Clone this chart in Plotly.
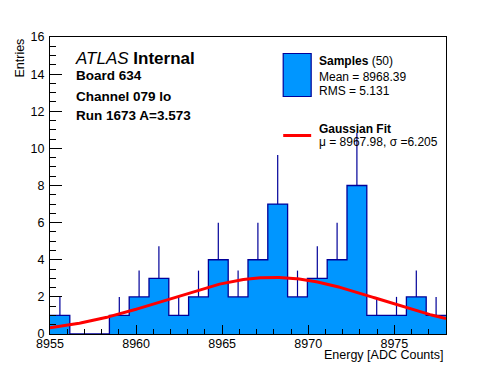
import numpy as np
import plotly.graph_objects as go

# ---- data ----
bin_lo = 8955.0
bin_hi = 8978.0
n_bins = 20
counts = [1, 0, 0, 1, 2, 3, 1, 2, 4, 2, 4, 7, 2, 3, 4, 8, 1, 1, 2, 1]
fit_const = 3.05
fit_mu = 8967.98
fit_sigma = 6.205
x_tick_vals = [8955, 8960, 8965, 8970, 8975]
y_tick_vals = [0, 2, 4, 6, 8, 10, 12, 14, 16]

header_lines = ["Board 634", "Channel 079 lo", "Run 1673 A=3.573"]
legend_samples = ["Mean = 8968.39", "RMS = 5.131"]

# ---- derived ----
edges = np.linspace(bin_lo, bin_hi, n_bins + 1)
centers = 0.5 * (edges[:-1] + edges[1:])
counts_arr = np.array(counts, dtype=float)

step_x = list(edges)
step_y = list(counts_arr) + [counts_arr[-1]]

err_x, err_y = [], []
for c, n in zip(centers, counts_arr):
    if n > 0:
        err_x += [c, c, None]
        err_y += [n, n + np.sqrt(n), None]

fx = np.linspace(bin_lo, bin_hi, 300)
fy = fit_const * np.exp(-0.5 * ((fx - fit_mu) / fit_sigma) ** 2)

# ---- layout geometry (screen pixels; page body has an 8px margin) ----
OFF = 8
W, H = 496 - OFF, 372 - OFF
L, R, T, B = 50, 446.5, 37, 334
FONT = "Liberation Sans"
FILL = "rgb(0,150,255)"
EDGE = "#000099"


def px(x):
    return (x - L) / (R - L)


def py(y):
    return (B - y) / (B - T)


fig = go.Figure()
fig.add_trace(go.Scatter(x=step_x, y=step_y, mode="lines", line_shape="hv",
                         fill="tozeroy", fillcolor=FILL,
                         line=dict(color=EDGE, width=1.3), hoverinfo="skip"))
fig.add_trace(go.Scatter(x=err_x, y=err_y, mode="lines",
                         line=dict(color=EDGE, width=1.2), hoverinfo="skip"))
fig.add_trace(go.Scatter(x=fx, y=fy, mode="lines",
                         line=dict(color="#ff0000", width=3), hoverinfo="skip"))

fig.update_layout(
    width=W, height=H, showlegend=False,
    margin=dict(l=L - OFF, r=W - (R - OFF), t=T - OFF, b=H - (B - OFF), pad=0),
    paper_bgcolor="white", plot_bgcolor="white",
    font=dict(family=FONT, size=12.5, color="black"),
)
fig.update_xaxes(range=[bin_lo, bin_hi], tickvals=x_tick_vals,
                 ticks="inside", ticklen=9, tickwidth=1, tickcolor="black",
                 minor=dict(dtick=1, tick0=bin_lo, ticks="inside", ticklen=5,
                            tickcolor="black", showgrid=False),
                 showline=True, linecolor="black", linewidth=1, mirror=True,
                 showgrid=False, zeroline=False, tickfont=dict(size=12.5),
                 ticklabelstandoff=-2)
fig.update_yaxes(range=[0, 16], tickvals=y_tick_vals,
                 ticks="inside", ticklen=12, tickwidth=1, tickcolor="black",
                 minor=dict(dtick=0.5, tick0=0, ticks="inside", ticklen=6,
                            tickcolor="black", showgrid=False),
                 showline=True, linecolor="black", linewidth=1, mirror=True,
                 showgrid=False, zeroline=False, tickfont=dict(size=12.5),
                 ticklabelstandoff=2)

ann = []
ann.append(dict(text="Entries", textangle=-90, x=px(19), y=py(37),
                xanchor="center", yanchor="top", font=dict(size=12.5)))
ann.append(dict(text="Energy [ADC Counts]", x=px(446), y=py(355),
                xanchor="right", yanchor="middle", font=dict(size=12.5)))
ann.append(dict(text="<i>ATLAS</i> <b>Internal</b>", x=px(73), y=py(58.5),
                xanchor="left", yanchor="middle", font=dict(size=17)))
for txt, yy in zip(header_lines, [75.5, 96, 115.5]):
    ann.append(dict(text="<b>%s</b>" % txt, x=px(74), y=py(yy),
                    xanchor="left", yanchor="middle", font=dict(size=13.5)))
ann.append(dict(text="<b>Samples</b> (50)", x=px(317), y=py(61),
                xanchor="left", yanchor="middle", font=dict(size=12)))
for txt, yy in zip(legend_samples, [76.5, 90.5]):
    ann.append(dict(text=txt, x=px(317), y=py(yy),
                    xanchor="left", yanchor="middle", font=dict(size=12)))
ann.append(dict(text="<b>Gaussian Fit</b>", x=px(317), y=py(129),
                xanchor="left", yanchor="middle", font=dict(size=12)))
ann.append(dict(text="μ = %.2f, σ =%.3f" % (fit_mu, fit_sigma), x=px(317), y=py(141.5),
                xanchor="left", yanchor="middle", font=dict(size=12)))
for a in ann:
    a.update(xref="paper", yref="paper", showarrow=False)
fig.update_layout(annotations=ann)

fig.add_shape(type="rect", xref="paper", yref="paper",
              x0=px(283.5), x1=px(311.5), y0=py(96.5), y1=py(53.5),
              fillcolor=FILL, line=dict(color=EDGE, width=1.2))
fig.add_shape(type="line", xref="paper", yref="paper",
              x0=px(283.5), x1=px(311.5), y0=py(135.5), y1=py(135.5),
              line=dict(color="#ff0000", width=3))

fig.write_html("out.html")
